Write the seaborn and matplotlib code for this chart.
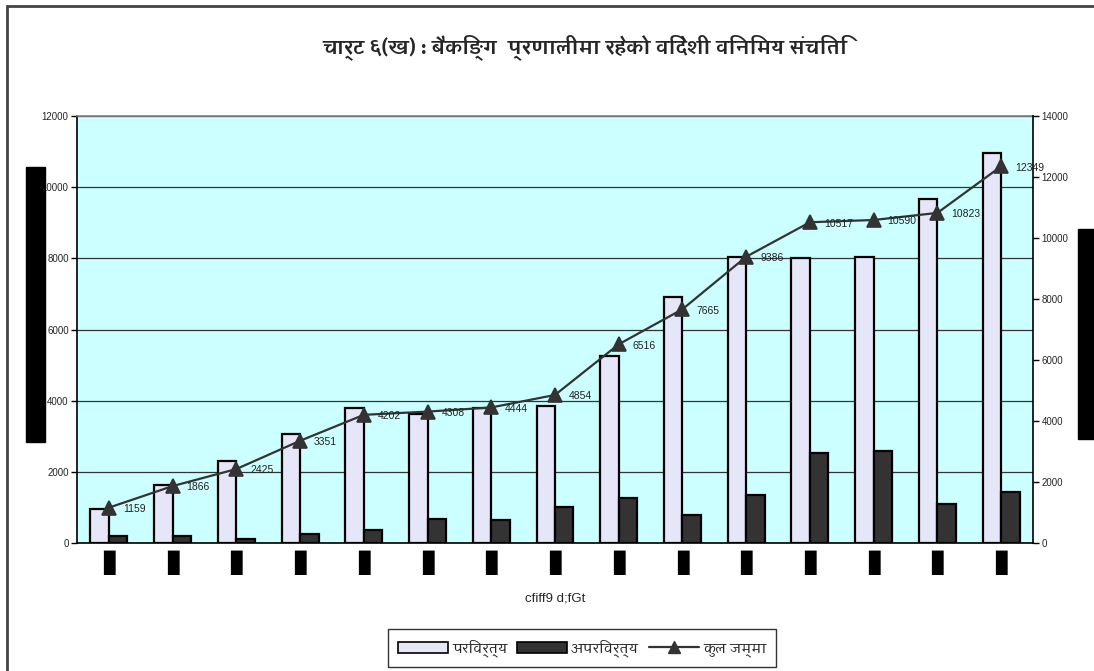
import numpy as np
import pandas as pd
import matplotlib
matplotlib.use('agg')
import matplotlib.pyplot as plt
import seaborn as sns
from matplotlib import font_manager, ft2font
from matplotlib.patches import Patch, Rectangle
from matplotlib.lines import Line2D

# -----------------------------
# data
# -----------------------------
periods = [f'p{i}' for i in range(1, 16)]
tick_labels = ['▮'] * 15  # labels are unreadable black blocks in the original
convertible = [950, 1630, 2310, 3050, 3790, 3630, 3790, 3840, 5260, 6900, 8050, 8000, 8040, 9680, 10950]
nonconvertible = [210, 210, 110, 260, 370, 680, 640, 1000, 1260, 790, 1360, 2530, 2580, 1100, 1420]
total = [1159, 1866, 2425, 3351, 4202, 4308, 4444, 4854, 6516, 7665, 9386, 10517, 10590, 10823, 12349]

series_names = ['परिवर्त्य', 'अपरिवर्त्य']
total_name = 'कुल जम्मा'
title = 'चार्ट ६(ख) : बैंकिङ्ग  प्रणालीमा रहेको विदेशी विनिमय संचिति'
xlabel = 'cfiff9 d;fGt'
left_ticks = [0, 2000, 4000, 6000, 8000, 10000, 12000]
right_ticks = [0, 2000, 4000, 6000, 8000, 10000, 12000, 14000]


def find_devanagari():
    # families that cover Devanagari; prefer one that also has a bold face
    fams = {}
    for f in font_manager.fontManager.ttflist:
        try:
            cmap = ft2font.FT2Font(f.fname).get_charmap()
        except Exception:
            continue
        if 0x091A in cmap and 0x0915 in cmap:
            w = f.weight if isinstance(f.weight, int) else 400
            fams.setdefault(f.name, []).append(w)
    if not fams:
        return None
    bold = [n for n, ws in fams.items() if max(ws) >= 600]
    return sorted(bold)[0] if bold else sorted(fams)[0]


dev_font = find_devanagari()
dev_family = [dev_font, 'DejaVu Sans'] if dev_font else ['DejaVu Sans']

sns.set_style('white')
plt.rcParams['font.family'] = ['Liberation Sans', 'DejaVu Sans']

df = pd.DataFrame({
    'period': periods * 2,
    'value': convertible + nonconvertible,
    'type': [series_names[0]] * 15 + [series_names[1]] * 15,
})
palette = {series_names[0]: '#E6E6F9', series_names[1]: '#333333'}

W, H = 1094, 671
fig = plt.figure(figsize=(W / 100, H / 100), dpi=100)
ax = fig.add_axes([77 / W, 1 - 543 / H, (1033 - 77) / W, (543 - 116) / H])
ax.set_facecolor('#CCFFFF')

sns.barplot(data=df, x='period', y='value', hue='type', hue_order=series_names,
            palette=palette, width=0.58, gap=0, saturation=1,
            edgecolor='black', linewidth=1.6, legend=False, ax=ax, zorder=3)

ax2 = ax.twinx()
sns.pointplot(x=periods, y=total, ax=ax2, color='#333333', markers='^',
              markersize=10, linewidth=1.6, errorbar=None)
for i, v in enumerate(total):
    ax2.annotate(str(v), (i, v), xytext=(10, -1), textcoords='offset points',
                 ha='left', va='center', fontsize=7.5, color='#222222')

# axes limits / ticks
ax.set_ylim(0, 12000)
ax2.set_ylim(0, 14000)
ax.set_yticks(left_ticks)
ax2.set_yticks(right_ticks)
ax.set_xlim(-0.5, len(periods) - 0.5)
ax.set_xticks(np.arange(len(periods)))
ax.set_xticklabels(tick_labels, fontsize=23, family='DejaVu Sans', color='black')
ax.set_xticks(np.arange(-0.5, len(periods), 1), minor=True)
ax.tick_params(axis='x', which='major', length=0, pad=3)
ax.tick_params(axis='x', which='minor', length=4, width=1, color='black', direction='out')
ax.tick_params(axis='y', length=4, width=1, color='black', labelsize=7, pad=2, direction='out', left=True)
ax2.tick_params(axis='y', length=4, width=1, color='black', labelsize=7, pad=2, direction='out', right=True)

ax.grid(axis='y', color='#333333', linewidth=0.9, zorder=0)
ax.set_axisbelow(True)
ax.set_ylabel('')
ax2.set_ylabel('')
ax.set_xlabel(xlabel, fontsize=9.5, labelpad=10)

for side in ['left', 'bottom']:
    ax.spines[side].set_color('black')
    ax.spines[side].set_linewidth(1.2)
ax.spines['top'].set_color('#808080')
ax.spines['top'].set_linewidth(1.2)
ax.spines['right'].set_visible(False)
for side in ['left', 'bottom', 'top']:
    ax2.spines[side].set_visible(False)
ax2.spines['right'].set_color('black')
ax2.spines['right'].set_linewidth(1.2)

# title
fig.text(585 / W, 1 - 47 / H, title, ha='center', va='center', fontsize=14,
         fontweight='bold', family=dev_family)

# legend
handles = [
    Patch(facecolor=palette[series_names[0]], edgecolor='black', linewidth=1.2),
    Patch(facecolor=palette[series_names[1]], edgecolor='black', linewidth=1.2),
    Line2D([], [], color='#333333', marker='^', markersize=9, linewidth=1.6),
]
leg = fig.legend(handles, series_names + [total_name], loc='center',
                 bbox_to_anchor=(582 / W, 1 - 648 / H), ncol=3, frameon=True,
                 fancybox=False, edgecolor='black', handlelength=3.6,
                 handleheight=0.9, columnspacing=0.7, handletextpad=0.3,
                 borderpad=0.7, prop={'family': dev_family, 'size': 10})
leg.get_frame().set_linewidth(1.0)

# black blocks where the axis titles were in the original
fig.add_artist(Rectangle((26 / W, 1 - 442 / H), 19 / W, 275 / H,
                         transform=fig.transFigure, color='black'))
fig.add_artist(Rectangle((1078 / W, 1 - 439 / H), 20 / W, 210 / H,
                         transform=fig.transFigure, color='black'))

# outer chart border (only left and top visible)
fig.add_artist(Rectangle((7 / W, -0.1), 1.2, 1.1 - 6 / H, transform=fig.transFigure,
                         fill=False, edgecolor='#444444', linewidth=2))

fig.savefig('out.png', dpi=100)
